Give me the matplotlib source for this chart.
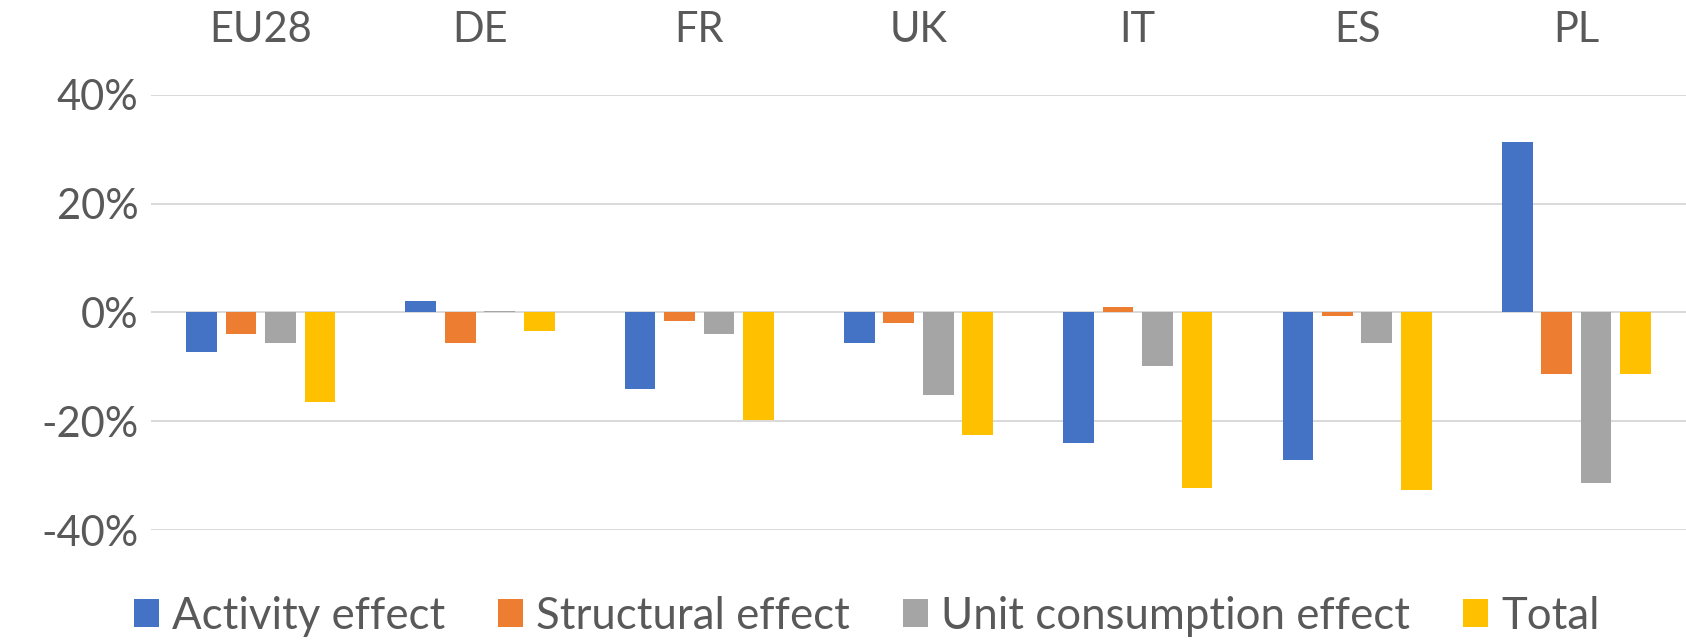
import numpy as np
import matplotlib.pyplot as plt

# Data (percent change)
categories = ['EU28', 'DE', 'FR', 'UK', 'IT', 'ES', 'PL']
series_names = ['Activity effect', 'Structural effect', 'Unit consumption effect', 'Total']
activity = [-7.2, 2.1, -14.1, -5.7, -23.9, -27.2, 31.3]
structural = [-4.0, -5.7, -1.6, -2.0, 1.1, -0.7, -11.3]
unit_cons = [-5.7, 0.2, -4.0, -15.1, -9.9, -5.7, -31.3]
total = [-16.4, -3.4, -19.7, -22.5, -32.3, -32.7, -11.3]
yticks = [-40, -20, 0, 20, 40]
ytick_labels = ['-40%', '-20%', '0%', '20%', '40%']

colors = ['#4472C4', '#ED7D31', '#A5A5A5', '#FFC000']
text_color = '#595959'

plt.rcParams['font.family'] = ['Lato', 'DejaVu Sans']

fig = plt.figure(figsize=(16.86, 6.41), dpi=100)
ax = fig.add_axes([0.0896, 0.173, 0.9104, 0.679])

x = np.arange(len(categories))
width = 0.14
offsets = [-0.27, -0.09, 0.09, 0.27]
for vals, name, col, off in zip([activity, structural, unit_cons, total],
                                series_names, colors, offsets):
    ax.bar(x + off, vals, width, color=col, label=name, zorder=3)

ax.set_xlim(-0.5, len(categories) - 0.5)
ax.set_ylim(-40, 40)
ax.set_yticks(yticks)
ax.set_yticklabels(ytick_labels)
ax.yaxis.grid(True, color='#D9D9D9', lw=1.4, zorder=0)
ax.set_axisbelow(True)

ax.xaxis.tick_top()
ax.set_xticks(x)
ax.set_xticklabels(categories)
ax.tick_params(axis='x', length=0, pad=33, labelsize=30, labelcolor=text_color)
ax.tick_params(axis='y', length=0, pad=9, labelsize=30, labelcolor=text_color)
for s in ax.spines.values():
    s.set_visible(False)

leg = fig.legend(loc='center', bbox_to_anchor=(0.514, 0.039), ncol=4,
                 frameon=False, fontsize=31.5, handlelength=0.58, handleheight=0.58,
                 handletextpad=0.3, columnspacing=1.2, borderaxespad=0)
for t in leg.get_texts():
    t.set_color(text_color)

plt.savefig('out.png', dpi=100)
